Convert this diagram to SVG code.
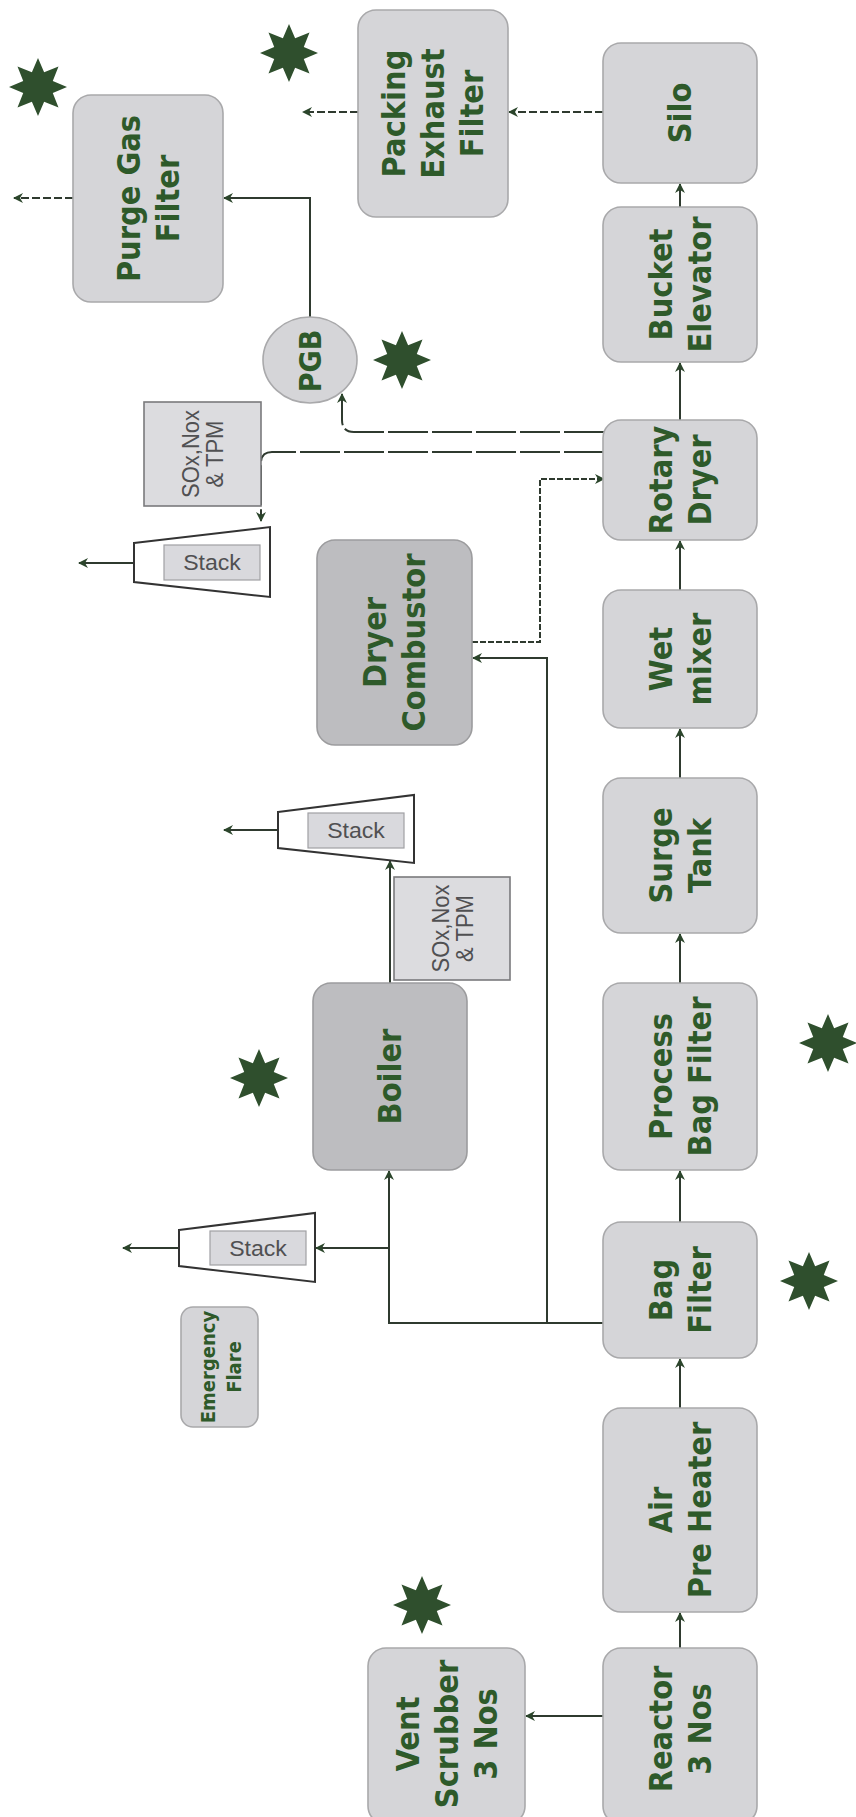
<svg xmlns="http://www.w3.org/2000/svg" xmlns:xlink="http://www.w3.org/1999/xlink" width="856" height="1817" viewBox="0 0 856 1817">
<style>
.box{fill:#d5d5d8;stroke:#a9a9ab;stroke-width:1.6}
.dark{fill:#bdbdc0;stroke:#9c9c9e;stroke-width:1.6}
.lbl{font-family:"DejaVu Sans",Verdana,sans-serif;font-weight:bold;font-size:29px;fill:#2e5a2a;text-anchor:middle}
.sm{font-family:"DejaVu Sans",Verdana,sans-serif;font-weight:bold;font-size:18px;fill:#2e5a2a;text-anchor:middle}
.ar{font-family:"Liberation Sans",Arial,sans-serif;font-size:22px;fill:#505052;text-anchor:middle}
.stk{fill:#ffffff;stroke:#333333;stroke-width:2}
.inner{fill:#d9d9dd;stroke:#a0a0a4;stroke-width:1.2}
.sox{fill:#dcdcdf;stroke:#7a7a7c;stroke-width:1.6}
.c{fill:none;stroke:#2f3a2f;stroke-width:2;marker-end:url(#ah)}
.d1{stroke-dasharray:40 4}
.d2{stroke-dasharray:8 3}
.d3{stroke-dasharray:6 2}
.star{fill:#2f4f2d}
</style>
<defs>
<marker id="ah" viewBox="0 0 10 10" refX="9" refY="5" markerWidth="10" markerHeight="10" orient="auto" markerUnits="userSpaceOnUse"><path d="M0,0 L10,5 L0,10 L3,5 z" fill="#2b452b"/></marker>
<polygon id="st" points="0,-29 6.12,-14.78 20.51,-20.51 14.78,-6.12 29,0 14.78,6.12 20.51,20.51 6.12,14.78 0,29 -6.12,14.78 -20.51,20.51 -14.78,6.12 -29,0 -14.78,-6.12 -20.51,-20.51 -6.12,-14.78"/>
</defs>
<rect width="856" height="1817" fill="#ffffff"/>

<g id="connectors">
<path class="c" d="M680,1648 V1613"/>
<path class="c" d="M603,1716 H526"/>
<path class="c" d="M680,1408 V1359"/>
<path class="c" d="M680,1222 V1171"/>
<path class="c" d="M680,983 V934"/>
<path class="c" d="M680,778 V729"/>
<path class="c" d="M680,590 V541"/>
<path class="c" d="M680,420 V363"/>
<path class="c" d="M680,207 V184"/>
<path class="c d2" d="M603,112 H509"/>
<path class="c d2" d="M358,112 H303"/>
<path class="c" d="M603,1323 H389 V1171"/>
<path class="c" d="M389,1248 H316"/>
<path class="c" d="M179,1248 H123"/>
<path class="c" d="M547,1323 V658 H473"/>
<path class="c d3" d="M472,642 H540 V479 H604"/>
<path class="c" d="M390,983 V861"/>
<path class="c" d="M278,830 H224"/>
<path class="c d1" d="M604,432 H354 Q342,432 342,420 V394"/>
<path class="c d1" d="M604,452 H272 Q261,452 261,463 V521"/>
<path class="c" d="M310,317 V198 H224"/>
<path class="c d2" d="M73,198 H14"/>
<path class="c" d="M134,563 H79"/>
</g>

<g id="silo"><rect class="box" x="603" y="43" width="154" height="140" rx="18"/>
<text class="lbl" transform="translate(680,113) scale(1.12,1) rotate(-90)"><tspan x="0" y="10">Silo</tspan></text></g>

<g id="bucket-elevator"><rect class="box" x="603" y="207" width="154" height="155" rx="18"/>
<text class="lbl" transform="translate(680,284.5) scale(1.12,1) rotate(-90)"><tspan x="0" y="-7.5">Bucket</tspan><tspan x="0" y="27.5">Elevator</tspan></text></g>

<g id="rotary-dryer"><rect class="box" x="603" y="420" width="154" height="120" rx="18"/>
<text class="lbl" transform="translate(680,480) scale(1.12,1) rotate(-90)"><tspan x="0" y="-7.5">Rotary</tspan><tspan x="0" y="27.5">Dryer</tspan></text></g>

<g id="wet-mixer"><rect class="box" x="603" y="590" width="154" height="138" rx="18"/>
<text class="lbl" transform="translate(680,659) scale(1.12,1) rotate(-90)"><tspan x="0" y="-7.5">Wet</tspan><tspan x="0" y="27.5">mixer</tspan></text></g>

<g id="surge-tank"><rect class="box" x="603" y="778" width="154" height="155" rx="18"/>
<text class="lbl" transform="translate(680,855.5) scale(1.12,1) rotate(-90)"><tspan x="0" y="-7.5">Surge</tspan><tspan x="0" y="27.5">Tank</tspan></text></g>

<g id="process-bag-filter"><rect class="box" x="603" y="983" width="154" height="187" rx="18"/>
<text class="lbl" transform="translate(680,1076.5) scale(1.12,1) rotate(-90)"><tspan x="0" y="-7.5">Process</tspan><tspan x="0" y="27.5">Bag Filter</tspan></text></g>

<g id="bag-filter"><rect class="box" x="603" y="1222" width="154" height="136" rx="18"/>
<text class="lbl" transform="translate(680,1290) scale(1.12,1) rotate(-90)"><tspan x="0" y="-7.5">Bag</tspan><tspan x="0" y="27.5">Filter</tspan></text></g>

<g id="air-pre-heater"><rect class="box" x="603" y="1408" width="154" height="204" rx="18"/>
<text class="lbl" transform="translate(680,1510) scale(1.12,1) rotate(-90)"><tspan x="0" y="-7.5">Air</tspan><tspan x="0" y="27.5">Pre Heater</tspan></text></g>

<g id="reactor"><rect class="box" x="603" y="1648" width="154" height="176" rx="18"/>
<text class="lbl" transform="translate(680,1729) scale(1.12,1) rotate(-90)"><tspan x="0" y="-7.5">Reactor</tspan><tspan x="0" y="27.5">3 Nos</tspan></text></g>

<g id="vent-scrubber"><rect class="box" x="368" y="1648" width="157" height="176" rx="18"/>
<text class="lbl" transform="translate(446.5,1734) scale(1.12,1) rotate(-90)"><tspan x="0" y="-25">Vent</tspan><tspan x="0" y="10">Scrubber</tspan><tspan x="0" y="45">3 Nos</tspan></text></g>

<g id="purge-gas-filter"><rect class="box" x="73" y="95" width="150" height="207" rx="18"/>
<text class="lbl" transform="translate(148,198.5) scale(1.12,1) rotate(-90)"><tspan x="0" y="-7.5">Purge Gas</tspan><tspan x="0" y="27.5">Filter</tspan></text></g>

<g id="packing-exhaust-filter"><rect class="box" x="358" y="10" width="150" height="207" rx="18"/>
<text class="lbl" transform="translate(433,113.5) scale(1.12,1) rotate(-90)"><tspan x="0" y="-25">Packing</tspan><tspan x="0" y="10">Exhaust</tspan><tspan x="0" y="45">Filter</tspan></text></g>

<g id="pgb"><ellipse class="box" cx="310" cy="360" rx="47" ry="43"/>
<text class="lbl" style="font-size:27px" transform="translate(310,361) scale(1.12,1) rotate(-90)"><tspan x="0" y="9.5">PGB</tspan></text></g>

<g id="dryer-combustor"><rect class="dark" x="317" y="540" width="155" height="205" rx="18"/>
<text class="lbl" transform="translate(394.5,642.5) scale(1.12,1) rotate(-90)"><tspan x="0" y="-7.5">Dryer</tspan><tspan x="0" y="27.5">Combustor</tspan></text></g>

<g id="boiler"><rect class="dark" x="313" y="983" width="154" height="187" rx="18"/>
<text class="lbl" transform="translate(390,1076.5) scale(1.12,1) rotate(-90)"><tspan x="0" y="10">Boiler</tspan></text></g>

<g id="emergency-flare"><rect class="box" x="181" y="1307" width="77" height="120" rx="12"/>
<text class="sm" transform="translate(221,1367) scale(1.12,1) rotate(-90)"><tspan x="0" y="-5">Emergency</tspan><tspan x="0" y="18">Flare</tspan></text></g>

<g id="sox-upper"><rect class="sox" x="144" y="402" width="117" height="104"/>
<text class="ar" transform="translate(202,454) scale(1.12,1) rotate(-90)"><tspan x="0" y="-3">SOx,Nox</tspan><tspan x="0" y="19">&amp; TPM</tspan></text></g>

<g id="sox-middle"><rect class="sox" x="394" y="877" width="116" height="103"/>
<text class="ar" transform="translate(452,928.5) scale(1.12,1) rotate(-90)"><tspan x="0" y="-3">SOx,Nox</tspan><tspan x="0" y="19">&amp; TPM</tspan></text></g>

<g id="stack-upper"><polygon class="stk" points="134,543 270,527 270,597 134,582"/>
<rect class="inner" x="164" y="545" width="96" height="35"/>
<text class="ar" transform="translate(212,570) scale(1.05,1)">Stack</text></g>

<g id="stack-middle"><polygon class="stk" points="278,812 414,795 414,863 278,848"/>
<rect class="inner" x="308" y="813" width="96" height="35"/>
<text class="ar" transform="translate(356,838) scale(1.05,1)">Stack</text></g>

<g id="stack-lower"><polygon class="stk" points="179,1230 315,1213 315,1282 179,1266"/>
<rect class="inner" x="210" y="1231" width="96" height="34"/>
<text class="ar" transform="translate(258,1255.5) scale(1.05,1)">Stack</text></g>

<g id="stars">
<use href="#st" class="star" x="38" y="87"/>
<use href="#st" class="star" x="289" y="53"/>
<use href="#st" class="star" x="402" y="360"/>
<use href="#st" class="star" x="259" y="1078"/>
<use href="#st" class="star" x="828" y="1043"/>
<use href="#st" class="star" x="809" y="1281"/>
<use href="#st" class="star" x="422" y="1605"/>
</g>
</svg>
